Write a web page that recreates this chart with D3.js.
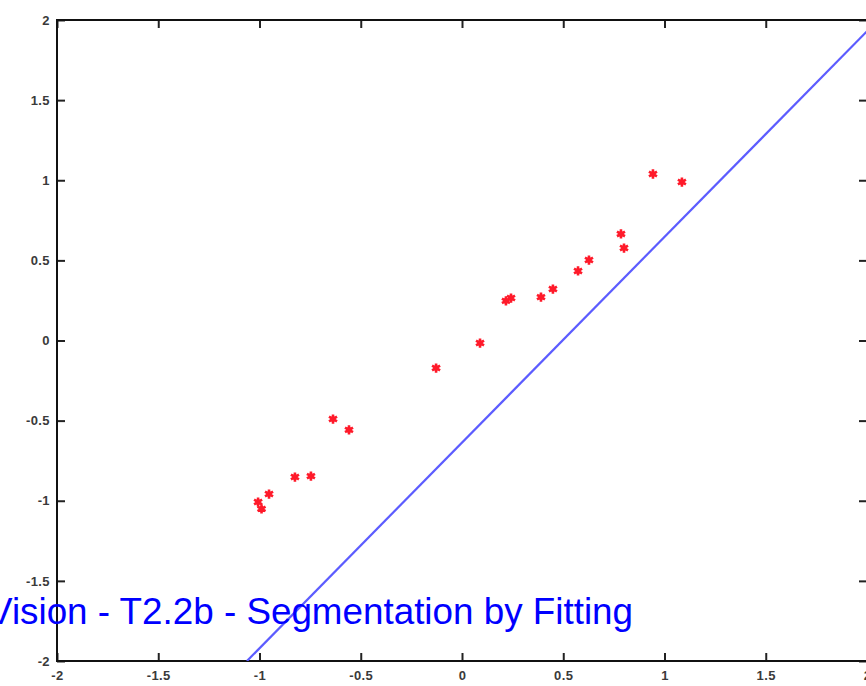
<!DOCTYPE html>
<html>
<head>
<meta charset="utf-8">
<script src="https://cdn.jsdelivr.net/npm/d3@7"></script>
<style>
  html, body { margin: 0; padding: 0; background: #fff; overflow: hidden; }
  svg { display: block; }
</style>
</head>
<body>
<svg id="chart" width="866" height="686"></svg>
<script>
// Data
const pointX = [-1.007, -0.990, -0.953, -0.825, -0.746, -0.637, -0.558, -0.128, 0.089, 0.217, 0.242, 0.390, 0.449, 0.573, 0.627, 0.785, 0.800, 0.943, 1.086];
const pointY = [-1.008, -1.051, -0.958, -0.852, -0.846, -0.490, -0.558, -0.172, -0.016, 0.247, 0.265, 0.271, 0.321, 0.434, 0.502, 0.665, 0.577, 1.039, 0.989];
const lineX = [-1.062, 2.0];
const lineY = [-2.0, 1.93];
const tickValues = [-2, -1.5, -1, -0.5, 0, 0.5, 1, 1.5, 2];
const tickLabels = ["-2", "-1.5", "-1", "-0.5", "0", "0.5", "1", "1.5", "2"];
const titleText = "Vision - T2.2b - Segmentation by Fitting";

const svg = d3.select("#chart");
const plotL = 57, plotR = 867, plotT = 20, plotB = 661;

const x = d3.scaleLinear().domain([-2, 2]).range([plotL, plotR]);
const y = d3.scaleLinear().domain([-2, 2]).range([plotB, plotT]);

const labelFmt = (d) => tickLabels[tickValues.indexOf(d)];
const tickLen = 8;

function styleAxis(g, showLabels) {
  g.select(".domain").remove();
  g.selectAll(".tick line").attr("stroke", "#222").attr("stroke-width", 2);
  g.selectAll(".tick text")
    .attr("fill", showLabels ? "#3a3a3a" : "none")
    .style("font-family", "Liberation Sans, Arial, sans-serif")
    .style("font-size", "13px")
    .style("font-weight", "bold")
    .style("letter-spacing", "0.4px");
}

// Bottom axis (ticks inward)
svg.append("g").attr("transform", `translate(0,${plotB})`)
  .call(d3.axisBottom(x).tickValues(tickValues).tickFormat(labelFmt).tickSizeInner(-tickLen).tickSizeOuter(0).tickPadding(10))
  .call(g => styleAxis(g, true));
// Top axis
svg.append("g").attr("transform", `translate(0,${plotT})`)
  .call(d3.axisTop(x).tickValues(tickValues).tickFormat("").tickSizeInner(-tickLen).tickSizeOuter(0))
  .call(g => styleAxis(g, false));
// Left axis
svg.append("g").attr("transform", `translate(${plotL},0)`)
  .call(d3.axisLeft(y).tickValues(tickValues).tickFormat(labelFmt).tickSizeInner(-tickLen).tickSizeOuter(0).tickPadding(7))
  .call(g => styleAxis(g, true));
// Right axis
svg.append("g").attr("transform", `translate(${plotR},0)`)
  .call(d3.axisRight(y).tickValues(tickValues).tickFormat("").tickSizeInner(-tickLen).tickSizeOuter(0))
  .call(g => styleAxis(g, false));

// Frame
svg.append("rect")
  .attr("x", plotL).attr("y", plotT)
  .attr("width", plotR - plotL).attr("height", plotB - plotT)
  .attr("fill", "none").attr("stroke", "#111").attr("stroke-width", 2);

// Clip
svg.append("clipPath").attr("id", "plotclip")
  .append("rect").attr("x", plotL).attr("y", plotT).attr("width", plotR - plotL).attr("height", plotB - plotT);

// Fitted line
const lineData = lineX.map((d, i) => [d, lineY[i]]);
svg.append("path")
  .datum(lineData)
  .attr("clip-path", "url(#plotclip)")
  .attr("d", d3.line().x(d => x(d[0])).y(d => y(d[1])))
  .attr("fill", "none")
  .attr("stroke", "#5c5cff")
  .attr("stroke-width", 2.2);

// Points
const pts = pointX.map((d, i) => [d, pointY[i]]);
const gp = svg.append("g");
gp.selectAll("path.star").data(pts).enter().append("path")
  .attr("class", "star")
  .attr("transform", d => `translate(${x(d[0])},${y(d[1])})`)
  .attr("d", d3.symbol(d3.symbolAsterisk, 60)())
  .attr("fill", "none")
  .attr("stroke", "#ff1a2a")
  .attr("stroke-width", 2.6);
gp.selectAll("circle.dot").data(pts).enter().append("circle")
  .attr("class", "dot")
  .attr("cx", d => x(d[0])).attr("cy", d => y(d[1]))
  .attr("r", 2.8)
  .attr("fill", "#ff1a2a");

// Title overlay
svg.append("text")
  .attr("x", 633).attr("y", 624)
  .attr("text-anchor", "end")
  .attr("fill", "#0000ff")
  .style("font-family", "Liberation Sans, Arial, sans-serif")
  .style("font-size", "36.8px")
  .text(titleText);
</script>
</body>
</html>
